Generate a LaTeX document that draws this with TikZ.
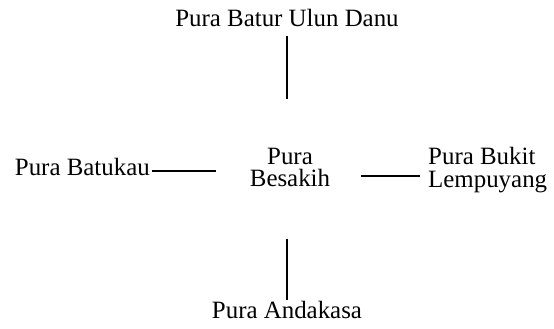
\documentclass[tikz,border=0pt]{standalone}
\usepackage{fontspec}
\setmainfont{Liberation Serif}
\begin{document}
\begin{tikzpicture}[
		x=1pt, y=-1pt,
		temple/.style={inner sep=0pt, font=\fontsize{24.9}{22.5}\selectfont, align=center},
		link/.style={line width=2pt}
	]
	\useasboundingbox (0,0) rectangle (554,329);
	\node[temple, anchor=north] (besakih) at (290,147.5) {Pura\\Besakih};
	\node[temple, anchor=base] (batur) at (287,27) {Pura Batur Ulun Danu};
	\node[temple, anchor=base east] (batukau) at (150,175) {Pura Batukau};
	\node[temple, anchor=north west, align=left] (lempuyang) at (428,147.5) {Pura Bukit\\Lempuyang};
	\node[temple, anchor=base] (andakasa) at (287,318) {Pura Andakasa};
	% lines round the centre
	\draw[link, shorten <=9pt, shorten >=48.5pt] (batur.south) -- (batur.south |- besakih.north);
	\draw[link, shorten <=52pt, shorten >=1pt] (andakasa.north |- besakih.south) -- (andakasa.north);
	\draw[link, shorten <=2pt, shorten >=34pt] ([yshift=4pt]batukau.base east) -- ([yshift=4pt]batukau.base east -| besakih.west);
	\draw[link, shorten <=31pt, shorten >=8pt] ([yshift=-1pt]besakih.east |- batukau.base east) -- ([yshift=-1pt]lempuyang.west |- batukau.base east);
\end{tikzpicture}
\end{document}
